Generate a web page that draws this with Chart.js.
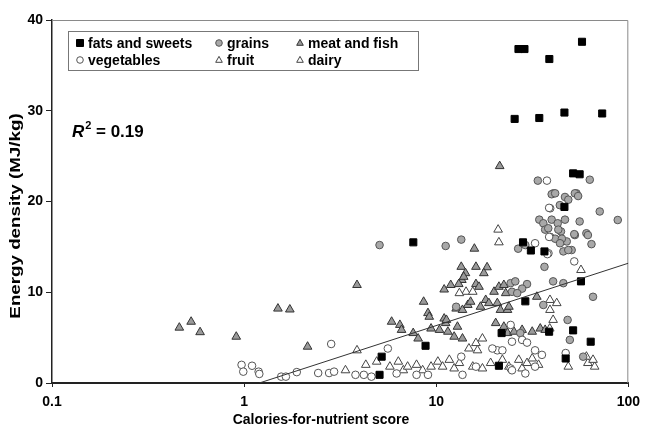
<!DOCTYPE html>
<html>
<head>
<meta charset="utf-8">
<script src="https://cdn.jsdelivr.net/npm/chart.js@4.4.1/dist/chart.umd.min.js"></script>
<style>
  body { margin: 0; background: #fff; }
  #wrap { width: 647px; height: 435px; }
</style>
</head>
<body>
<div id="wrap"><canvas id="graph1"></canvas></div>
<script>
// values, [score, MJ/kg]
var fatsAndSweets = [[26.8,36.8],[28.8,36.8],[38.8,35.7],[57.4,37.6],[25.6,29.1],[34.4,29.2],[46.5,29.8],[73.1,29.7],
  [51.6,23.1],[55.8,23.0],[46.5,19.4],[7.6,15.5],[28.3,15.5],[31.1,14.6],[36.6,14.5],[56.7,11.2],[29.1,9.0],[8.8,4.1],
  [5.2,2.9],[5.07,0.9],[21.9,5.5],[38.7,5.65],[51.6,5.8],[63.7,4.55],[47.2,2.7],[21.2,1.9]];

var grains = [[5.07,15.2],[11.2,15.1],[13.5,15.8],[33.8,22.3],[63,22.4],[40.7,20.9],[46.8,20.5],[53.7,20.9],[39.9,20.8],
  [41.6,20.9],[44,19.6],[52.7,20.9],[48.7,20.2],[34.4,18],[36.1,17.6],[39.9,18.0],[42.9,17.6],[46.8,18.0],[36.9,16.9],
  [39.2,16.1],[41.6,15.9],[44.6,16.7],[47.8,15.6],[50.7,14.65],[52.7,16.3],[26.7,14.8],[29.1,15.2],[45.9,14.5],[48.7,14.65],
  [36.6,12.8],[71,18.9],[88.1,17.96],[64.3,15.3],[60.5,16.5],[61.6,16.3],[55.8,17.8],[52.3,16.4],[38.3,17.05],[43.2,16.9],
  [45.1,15.9],[44.1,15.4],[40.6,11.2],[45.9,11.0],[65.5,9.5],[24.4,11.0],[25.8,11.2],[29.7,10.9],[28.0,10.4],[24.8,10.05],
  [26.4,9.9],[12.7,8.4],[48.3,6.95],[49.6,4.75],[58.2,2.9],[27.4,5.5],[36.1,8.6],[54.8,20.6]];

var meatAndFish = [[0.46,6.1],[0.53,6.75],[0.59,5.6],[0.91,5.1],[1.5,8.2],[1.73,8.1],[2.14,4.0],[3.87,10.8],[21.4,23.9],
  [15.8,14.8],[13.5,12.8],[16.1,12.8],[18.4,12.75],[14.2,12.1],[17.7,12.1],[13.6,11.35],[13.9,11.7],[11.0,10.3],[11.9,10.8],
  [13.1,10.9],[16.1,10.9],[16.7,10.6],[20.0,10.05],[21.2,10.6],[23.0,9.9],[22.5,10.8],[33.4,9.5],[8.6,8.95],[9.06,7.7],
  [9.2,7.3],[11.0,7.1],[11.2,6.6],[12.7,8.2],[13.7,8.05],[14.6,8.6],[15.1,8.95],[17.0,8.4],[18.1,9.15],[18.8,8.8],[20.8,8.8],
  [21.6,8.05],[23.5,8.05],[23.9,8.4],[5.86,6.75],[6.47,6.4],[6.6,5.85],[7.59,5.5],[8.05,4.9],[9.4,6.0],[10.4,5.85],[11.3,6.95],
  [11.5,5.65],[12.4,5.1],[13.7,4.9],[12.9,6.2],[20.4,6.6],[22.5,6.2],[23.5,5.5],[25.4,5.65],[28.0,5.85],[31.6,5.65],[34.8,6.0],
  [36.9,5.85]];

var vegetables = [[37.7,22.3],[39.2,19.25],[38.7,16.1],[32.7,15.4],[38.4,14.3],[37.9,14.2],[52.3,13.4],[2.84,4.3],[0.97,2.0],
  [0.99,1.25],[1.1,1.9],[1.19,1.25],[1.2,1.0],[1.56,0.7],[1.65,0.7],[1.88,1.2],[2.43,1.1],[2.77,1.1],[2.94,1.25],[3.8,0.9],
  [4.2,0.9],[4.6,0.7],[24.4,6.4],[28.0,4.75],[29.7,4.45],[32.7,3.6],[35.5,3.1],[24.8,4.55],[20.8,3.6],[22.1,3.6],[5.6,3.8],
  [6.22,1.05],[7.9,0.9],[9.06,0.9],[13.5,2.9],[13.7,0.9],[16.1,1.8],[19.6,3.8],[24.4,1.6],[29.1,1.05],[32.7,1.8],[24.8,1.4],
  [47.2,3.3],[38.7,19.3]];

var fruit = [[56.7,12.45],[39.1,9.15],[39.1,8.05],[42.4,8.8],[14.3,10.05],[13.2,9.9],[15.5,10.05],[3.37,1.4],[4.3,2.0],
  [4.9,2.35],[5.74,1.8],[6.35,2.35],[6.74,1.4],[7.1,1.8],[7.9,2.0],[8.5,1.4],[9.4,1.8],[10.2,2.35],[10.8,1.8],[11.7,2.55],
  [12.4,1.6],[13.2,2.2],[15.5,1.8],[17.4,1.6],[19.2,2.2],[22.1,2.55],[23.9,1.8],[26.9,2.55],[28.0,1.6],[29.7,2.2],[31.6,2.7],
  [34.1,2.0],[48.7,1.8],[61.6,2.2],[66.8,1.8],[60.5,2.9],[65.5,2.55]];

var dairy = [[21.0,16.9],[21.2,15.5],[16.1,4.4],[17.4,4.9],[16.4,3.6],[14.8,3.8],[3.87,3.6],[40.6,6.95],[39.0,6.0]];

var trendX = [1.2, 100];
var trendY = [0, 13.2];

var xTicks = [0.1, 1, 10, 100];
var yTicks = [0, 10, 20, 30, 40];

var FONT = '"Liberation Sans", Arial, sans-serif';

function pts(arr) {
  return arr.map(function (p) { return {x: p[0], y: p[1]}; });
}

var styles = {
  fats:  {pointStyle: 'rect', pointRadius: 5, backgroundColor: '#000', borderColor: '#000'},
  veg:   {pointStyle: 'circle', pointRadius: 3.8, backgroundColor: '#fff', borderColor: '#555'},
  grain: {pointStyle: 'circle', pointRadius: 3.8, backgroundColor: '#a8a8a8', borderColor: '#555'},
  fruit: {pointStyle: 'triangle', pointRadius: 5, backgroundColor: '#fff', borderColor: '#444'},
  meat:  {pointStyle: 'triangle', pointRadius: 5, backgroundColor: '#9a9a9a', borderColor: '#333'},
  dairy: {pointStyle: 'triangle', pointRadius: 5, backgroundColor: '#fff', borderColor: '#444'}
};

function series(label, data, st) {
  return Object.assign({label: label, data: pts(data), borderWidth: 1, pointHoverRadius: st.pointRadius}, st);
}

// legend inside the plot, column-major like the original
var legendItems = [
  ['fats and sweets', 'fats', 0, 0], ['vegetables', 'veg', 0, 1],
  ['grains', 'grain', 1, 0], ['fruit', 'fruit', 1, 1],
  ['meat and fish', 'meat', 2, 0], ['dairy', 'dairy', 2, 1]
];

function mark(ctx, st, x, y, r) {
  ctx.save();
  ctx.fillStyle = st.backgroundColor;
  ctx.strokeStyle = st.borderColor;
  ctx.lineWidth = 1;
  ctx.beginPath();
  if (st.pointStyle === 'rect') {
    ctx.rect(x - r, y - r, 2 * r, 2 * r);
  } else if (st.pointStyle === 'circle') {
    ctx.arc(x, y, r, 0, Math.PI * 2);
  } else {
    ctx.moveTo(x, y - r * 1.1);
    ctx.lineTo(x + r, y + r * 0.7);
    ctx.lineTo(x - r, y + r * 0.7);
    ctx.closePath();
  }
  ctx.fill();
  ctx.stroke();
  ctx.restore();
}

var extras = {
  id: 'extras',
  beforeDatasetsDraw: function (chart) {
    var a = chart.chartArea, ctx = chart.ctx;
    ctx.save();
    ctx.strokeStyle = '#8a8a8a';
    ctx.lineWidth = 1;
    ctx.beginPath();
    ctx.moveTo(a.left, a.top + 0.5);
    ctx.lineTo(a.right - 0.5, a.top + 0.5);
    ctx.lineTo(a.right - 0.5, a.bottom);
    ctx.stroke();
    ctx.restore();
  },
  afterDraw: function (chart) {
    var ctx = chart.ctx;
    ctx.save();
    // legend box
    ctx.fillStyle = '#fff';
    ctx.fillRect(68, 31, 350, 39);
    ctx.strokeStyle = '#777';
    ctx.lineWidth = 1;
    ctx.strokeRect(68.5, 31.5, 350, 39);
    var colX = [80, 219, 300];
    var rowY = [43, 60];
    ctx.font = 'bold 14px ' + FONT;
    ctx.textBaseline = 'middle';
    ctx.textAlign = 'left';
    legendItems.forEach(function (it) {
      var st = styles[it[1]];
      var x = colX[it[2]], y = rowY[it[3]];
      mark(ctx, st, x, y, st.pointStyle === 'rect' ? 3.5 : 3.3);
      ctx.fillStyle = '#000';
      ctx.fillText(it[0], x + 8, y + 1);
    });
    // R squared
    ctx.textBaseline = 'alphabetic';
    ctx.font = 'italic bold 17px ' + FONT;
    ctx.fillText('R', 72, 137);
    var w = ctx.measureText('R').width;
    ctx.font = 'bold 11px ' + FONT;
    ctx.fillText('2', 72 + w + 1, 129);
    ctx.font = 'bold 17px ' + FONT;
    ctx.fillText(' = 0.19', 72 + w + 7, 137);
    // axis titles
    ctx.font = 'bold 14px ' + FONT;
    ctx.textAlign = 'center';
    ctx.textBaseline = 'middle';
    ctx.fillText('Calories-for-nutrient score', 321, 420);
    // the source figure is stretched vertically, so the y title runs long
    ctx.translate(16, 216);
    ctx.rotate(-Math.PI / 2);
    ctx.scale(1.25, 1);
    ctx.font = 'bold 15px ' + FONT;
    ctx.fillText('Energy density (MJ/kg)', 0, 0);
    ctx.restore();
  }
};

var chart = new Chart(document.getElementById('graph1').getContext('2d'), {
  type: 'scatter',
  data: {
    datasets: [
      {type: 'line', label: 'trend', data: trendX.map(function (v, i) { return {x: v, y: trendY[i]}; }),
        borderColor: '#333', borderWidth: 1, pointRadius: 0, fill: false},
      series('fats and sweets', fatsAndSweets, styles.fats),
      series('vegetables', vegetables, styles.veg),
      series('grains', grains, styles.grain),
      series('fruit', fruit, styles.fruit),
      series('dairy', dairy, styles.dairy),
      series('meat and fish', meatAndFish, styles.meat)
    ]
  },
  options: {
    responsive: true,
    maintainAspectRatio: false,
    animation: false,
    layout: {padding: {top: 20, right: 13, left: 0, bottom: 0}},
    scales: {
      x: {
        type: 'logarithmic',
        min: 0.1,
        max: 100,
        afterBuildTicks: function (s) { s.ticks = xTicks.map(function (v) { return {value: v}; }); },
        afterFit: function (s) { s.height = 52; },
        grid: {drawOnChartArea: false, tickLength: 4, color: '#222'},
        border: {color: '#222', width: 2},
        ticks: {
          color: '#000', padding: 7, maxRotation: 0, autoSkip: false,
          font: {family: FONT, size: 14, weight: 'bold'},
          callback: function (v) { return String(v); }
        }
      },
      y: {
        min: 0,
        max: 40,
        afterBuildTicks: function (s) { s.ticks = yTicks.map(function (v) { return {value: v}; }); },
        afterFit: function (s) { s.width = 52; },
        grid: {drawOnChartArea: false, tickLength: 6, color: '#222'},
        border: {color: '#222', width: 1.5},
        ticks: {color: '#000', padding: 3, font: {family: FONT, size: 14, weight: 'bold'}}
      }
    },
    plugins: {
      legend: {display: false},
      tooltip: {enabled: false}
    }
  },
  plugins: [extras]
});
</script>
</body>
</html>
